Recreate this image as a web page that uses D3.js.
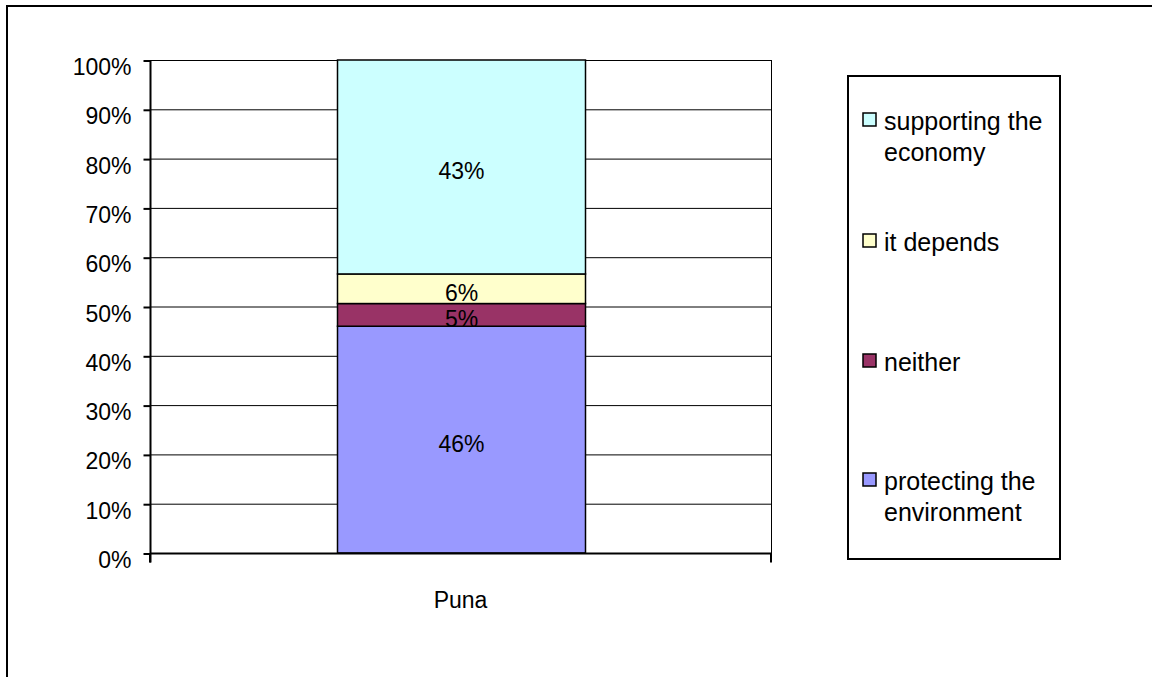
<!DOCTYPE html>
<html><head><meta charset="utf-8">
<script src="https://cdn.jsdelivr.net/npm/d3@7"></script>
<style>body{margin:0;background:#fff}svg{display:block}text{font-family:"Liberation Sans",Arial,sans-serif;fill:#000}</style>
</head><body>
<svg id="c" width="1152" height="677"></svg>
<script>
const categories = ["Puna"];
const seriesNames = ["protecting the environment", "neither", "it depends", "supporting the economy"];
const seriesValues = [[46.0], [4.6], [6.0], [43.4]];
const seriesColors = ["#9999FF", "#993366", "#FFFFCC", "#CCFFFF"];
const yTicks = [0, 10, 20, 30, 40, 50, 60, 70, 80, 90, 100];
const legendLines = [["supporting the", "economy"], ["it depends"], ["neither"], ["protecting the", "environment"]];

const FONT = "Liberation Sans, Arial, sans-serif";
const svg = d3.select("#c");
svg.append("rect").attr("x", 7).attr("y", 6).attr("width", 1200).attr("height", 700)
  .attr("fill", "none").attr("stroke", "#000").attr("stroke-width", 2);

const L = 150, R = 771, T = 60, B = 553;
const x = d3.scaleBand().domain(categories).range([L, R]).paddingInner(0).paddingOuter(0);
const y = d3.scaleLinear().domain([0, 100]).range([B, T]);

const g = svg.append("g");
g.selectAll("line.grid").data(yTicks).join("line")
  .attr("x1", L).attr("x2", R).attr("y1", d => y(d) + 0.5).attr("y2", d => y(d) + 0.5)
  .attr("stroke", "#000").attr("stroke-width", 1);
g.append("line").attr("x1", R + 0.5).attr("x2", R + 0.5).attr("y1", T).attr("y2", B + 9).attr("stroke", "#000");

const barW = 248;
const stackData = [];
let acc = 0;
seriesValues.forEach((v, i) => { stackData.push({ y0: acc, y1: acc + v[0], i, v: v[0] }); acc += v[0]; });
const bx = x(categories[0]) + x.bandwidth() / 2 - barW / 2 + 1;
g.selectAll("rect.bar").data(stackData).join("rect")
  .attr("x", bx).attr("width", barW)
  .attr("y", d => y(d.y1)).attr("height", d => y(d.y0) - y(d.y1))
  .attr("fill", d => seriesColors[d.i]).attr("stroke", "#000").attr("stroke-width", 1.5);
g.selectAll("text.lab").data(stackData).join("text")
  .attr("x", bx + barW / 2).attr("y", d => (y(d.y0) + y(d.y1)) / 2 + 12)
  .attr("text-anchor", "middle").attr("font-size", 23)
  .text(d => Math.round(d.v) + "%");

const yAxis = d3.axisLeft(y).tickValues(yTicks).tickFormat(d => d + "%").tickSize(7).tickPadding(12);
const ya = svg.append("g").attr("transform", `translate(${L + 0.5},0.5)`).call(yAxis);
ya.select(".domain").attr("stroke", "#000").attr("stroke-width", 2).attr("d", `M0,${T}V${B + 9}`);
ya.selectAll(".tick line").attr("stroke", "#000").attr("stroke-width", 2);
ya.selectAll(".tick text").attr("font-size", 23).attr("font-family", FONT).attr("fill", "#000").attr("dy", 14);

const xAxis = d3.axisBottom(x).tickSize(0).tickPadding(38);
const xa = svg.append("g").attr("transform", `translate(0,${B + 0.5})`).call(xAxis);
xa.select(".domain").attr("stroke", "#000").attr("stroke-width", 2).attr("d", `M${L},0H${R}`);
xa.selectAll(".tick text").attr("font-size", 23).attr("font-family", FONT).attr("fill", "#000");
xa.append("line").attr("x1", L).attr("x2", L).attr("y1", 0).attr("y2", 9).attr("stroke", "#000").attr("stroke-width", 2);
xa.append("line").attr("x1", R).attr("x2", R).attr("y1", 0).attr("y2", 9).attr("stroke", "#000").attr("stroke-width", 2);

const lg = svg.append("g");
lg.append("rect").attr("x", 848).attr("y", 76).attr("width", 212).attr("height", 483)
  .attr("fill", "#fff").attr("stroke", "#000").attr("stroke-width", 2);
const legTop = [113, 234, 354, 473];
const legOrder = [3, 2, 1, 0];
legOrder.forEach((si, k) => {
  lg.append("rect").attr("x", 863).attr("y", legTop[k]).attr("width", 13).attr("height", 13)
    .attr("fill", seriesColors[si]).attr("stroke", "#000").attr("stroke-width", 1.5);
  const t = lg.append("text").attr("x", 884).attr("y", legTop[k] + 17).attr("font-size", 25);
  legendLines[k].forEach((ln, j) => t.append("tspan").attr("x", 884).attr("dy", j === 0 ? 0 : 31).text(ln));
});
</script>
</body></html>
